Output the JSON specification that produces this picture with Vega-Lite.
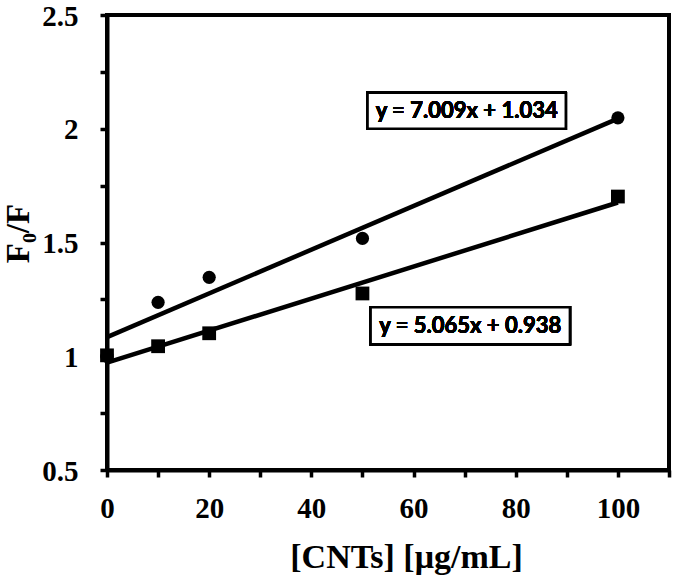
{
  "$schema": "https://vega.github.io/schema/vega-lite/v6.json",
  "width": 562,
  "height": 455,
  "autosize": {"type": "none"},
  "padding": {"left": 107, "top": 15, "right": 6, "bottom": 114},
  "background": "white",
  "config": {
    "view": {"stroke": "black", "strokeWidth": 4},
    "axis": {
      "grid": false,
      "domainColor": "black",
      "domainWidth": 4,
      "tickColor": "black",
      "tickWidth": 3.5,
      "tickSize": 7,
      "labelFont": "Liberation Serif",
      "labelFontWeight": "bold",
      "labelFontSize": 29,
      "labelColor": "black",
      "labelOverlap": false,
      "labelFlush": false,
      "titleFont": "Liberation Serif",
      "titleFontWeight": "bold",
      "titleColor": "black"
    }
  },
  "data": {
    "values": [
      {"series": "A", "conc": 0, "ratio": 1.0},
      {"series": "A", "conc": 10, "ratio": 1.237},
      {"series": "A", "conc": 20, "ratio": 1.347},
      {"series": "A", "conc": 50, "ratio": 1.518},
      {"series": "A", "conc": 100, "ratio": 2.048},
      {"series": "B", "conc": 0, "ratio": 1.004},
      {"series": "B", "conc": 10, "ratio": 1.044},
      {"series": "B", "conc": 20, "ratio": 1.101},
      {"series": "B", "conc": 50, "ratio": 1.276},
      {"series": "B", "conc": 100, "ratio": 1.702}
    ]
  },
  "encoding": {
    "x": {
      "field": "conc",
      "type": "quantitative",
      "scale": {"domain": [0, 110], "nice": false, "zero": false},
      "axis": {
        "title": "[CNTs] [μg/mL]",
        "titleFontSize": 34,
        "titleBaseline": "alphabetic",
        "titleX": 299,
        "titleY": 97,
        "values": [0, 10, 20, 30, 40, 50, 60, 70, 80, 90, 100, 110],
        "labelExpr": "(datum.value % 20 == 0 && datum.value <= 100) ? datum.label : ''",
        "labelPadding": 17
      }
    },
    "y": {
      "field": "ratio",
      "type": "quantitative",
      "scale": {"domain": [0.5, 2.5], "nice": false, "zero": false},
      "axis": {
        "title": "F₀/F",
        "titleFontSize": 33,
        "titleBaseline": "alphabetic",
        "titleX": -79,
        "titleY": 218,
        "values": [0.5, 0.75, 1, 1.25, 1.5, 1.75, 2, 2.25, 2.5],
        "labelExpr": "(datum.value * 2) % 1 == 0 ? format(datum.value, '~g') : ''",
        "labelPadding": 22,
        "labelOffset": 1
      }
    }
  },
  "layer": [
    {
      "transform": [
        {"regression": "ratio", "on": "conc", "groupby": ["series"], "extent": [0, 100]}
      ],
      "mark": {"type": "line", "color": "black", "strokeWidth": 4.5},
      "encoding": {"detail": {"field": "series"}}
    },
    {
      "mark": {"type": "point", "filled": true, "opacity": 1, "color": "black"},
      "encoding": {
        "shape": {"field": "series", "scale": {"domain": ["A", "B"], "range": ["circle", "square"]}, "legend": null},
        "size": {"field": "series", "scale": {"type": "ordinal", "domain": ["A", "B"], "range": [175, 190]}, "legend": null}
      }
    },
    {
      "mark": {"type": "rect", "fill": "white", "stroke": "black", "strokeWidth": 2.5},
      "encoding": {
        "x": {"datum": 51.0},
        "x2": {"datum": 89.8},
        "y": {"datum": 2.158},
        "y2": {"datum": 2.0}
      }
    },
    {
      "mark": {"type": "rect", "fill": "white", "stroke": "black", "strokeWidth": 2.5},
      "encoding": {
        "x": {"datum": 51.6},
        "x2": {"datum": 90.6},
        "y": {"datum": 1.215},
        "y2": {"datum": 1.053}
      }
    },
    {
      "mark": {"type": "text", "font": "Lato", "fontWeight": "bold", "fontSize": 22, "color": "black", "align": "center", "baseline": "middle"},
      "encoding": {
        "x": {"datum": 70.4},
        "y": {"datum": 2.079},
        "text": {"value": "y = 7.009x + 1.034"}
      }
    },
    {
      "mark": {"type": "text", "font": "Lato", "fontWeight": "bold", "fontSize": 22, "color": "black", "align": "center", "baseline": "middle"},
      "encoding": {
        "x": {"datum": 71.1},
        "y": {"datum": 1.134},
        "text": {"value": "y = 5.065x + 0.938"}
      }
    }
  ]
}
